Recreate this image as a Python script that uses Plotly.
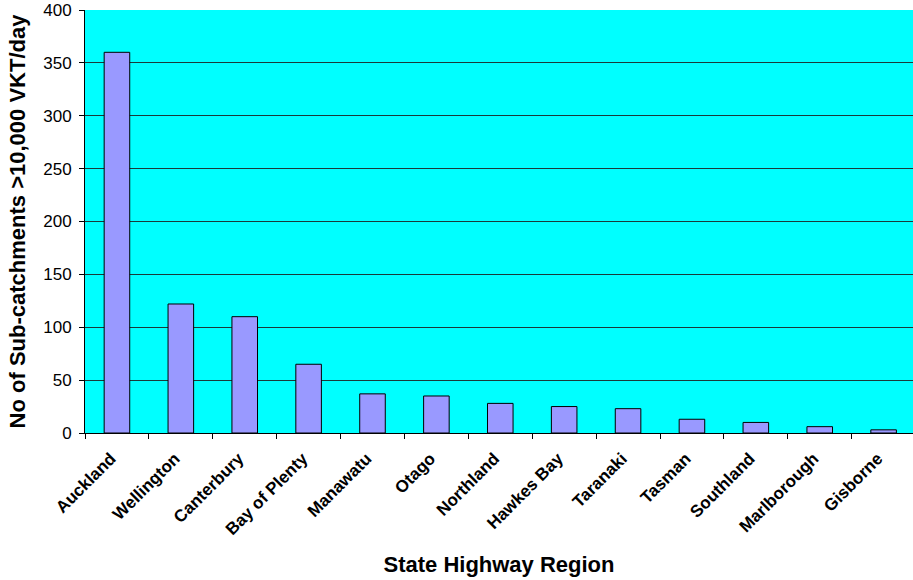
import plotly.graph_objects as go

regions = ["Auckland", "Wellington", "Canterbury", "Bay of Plenty", "Manawatu", "Otago",
           "Northland", "Hawkes Bay", "Taranaki", "Tasman", "Southland", "Marlborough", "Gisborne"]
counts = [360, 122, 110, 65, 37, 35, 28, 25, 23, 13, 10, 6, 3]
y_ticks = [0, 50, 100, 150, 200, 250, 300, 350, 400]

font_family = "Liberation Sans, Arial, sans-serif"

fig = go.Figure()
fig.add_trace(go.Bar(
    x=regions, y=counts,
    marker=dict(color="#9999FF", line=dict(color="#000000", width=1)),
    width=0.4,
))

fig.update_layout(
    width=913, height=580,
    margin=dict(l=85, r=0, t=10, b=147),
    paper_bgcolor="#FFFFFF",
    plot_bgcolor="#00FFFF",
    showlegend=False,
    font=dict(family=font_family, color="#000000"),
    xaxis=dict(
        range=[-0.5, 12.46],
        tickson="boundaries",
        ticks="outside", ticklen=5, tickcolor="#000000",
        showline=True, linecolor="#000000", linewidth=1,
        showgrid=False,
        tickangle=-45,
        ticklabelstandoff=8,
        ticklabelshift=-6,
        tickfont=dict(size=17, family=font_family, weight="bold"),
        title=dict(text="<b>State Highway Region</b>", font=dict(size=22), standoff=18),
    ),
    yaxis=dict(
        range=[0, 400],
        tickvals=y_ticks,
        ticks="outside", ticklen=5, tickcolor="#000000",
        showline=True, linecolor="#000000", linewidth=1,
        showgrid=True, gridcolor="#1a3a3a", gridwidth=1,
        zeroline=False,
        ticklabelstandoff=4,
        tickfont=dict(size=17, family=font_family),
        title=dict(text="<b>No of Sub-catchments >10,000 VKT/day</b>", font=dict(size=22), standoff=11),
    ),
)

fig.write_html("out.html")
